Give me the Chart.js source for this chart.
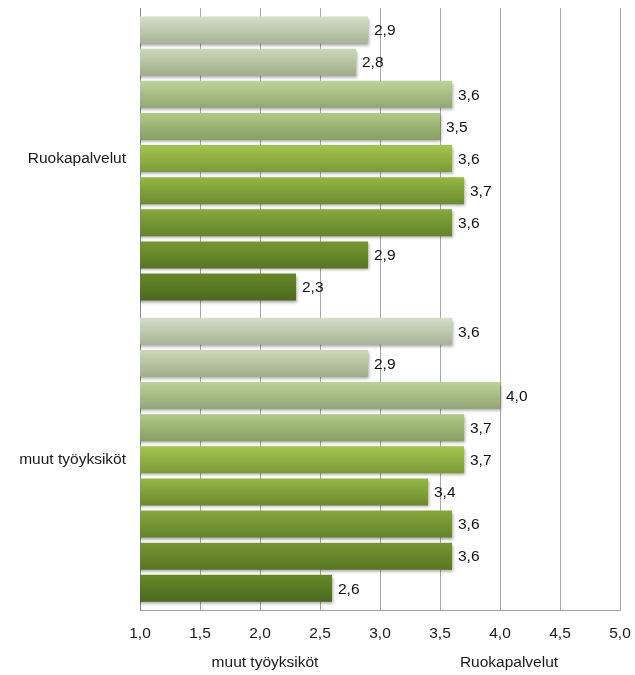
<!DOCTYPE html>
<html>
<head>
<meta charset="utf-8">
<script src="https://cdn.jsdelivr.net/npm/chart.js@4"></script>
<style>
  body { margin: 0; background: #fff; }
  #wrap { position: relative; width: 635px; height: 675px; }
  #legend { position: absolute; left: 0; top: 653px; width: 635px; height: 22px;
            font: 15.5px "Liberation Sans", Arial, sans-serif; color: #1a1a1a; }
  #legend span { position: absolute; transform: translateX(-50%); white-space: nowrap; }
</style>
</head>
<body>
<div id="wrap">
  <canvas id="chart" width="635" height="675"></canvas>
  <div id="legend"></div>
</div>
<script>
// categories on the y axis, top to bottom
var categories = ['Ruokapalvelut', 'muut työyksiköt'];
// nine answers per category, top bar first
var ruokapalvelut = [2.9, 2.8, 3.6, 3.5, 3.6, 3.7, 3.6, 2.9, 2.3];
var muutTyoyksikot = [3.6, 2.9, 4.0, 3.7, 3.7, 3.4, 3.6, 3.6, 2.6];
var xTicks = [1.0, 1.5, 2.0, 2.5, 3.0, 3.5, 4.0, 4.5, 5.0];
var legendLabels = ['muut työyksiköt', 'Ruokapalvelut'];

// bar shading, light grey-green to dark green (top / bottom of each bar)
var shadeTop = ['#d5dec6', '#ccd8b7', '#bdd298', '#b0ca86', '#a3c54d', '#94b745', '#86a83c', '#779733', '#678829'];
var shadeBottom = ['#a8b496', '#a1ae8b', '#93a676', '#879f63', '#7d9a39', '#6d8a2f', '#64822a', '#587622', '#4b681d'];

var FONT = '"Liberation Sans", Arial, sans-serif';
var FSIZE = 15.5;

function comma(v) {
    return Number(v).toFixed(1).replace('.', ',');
}

var datasets = shadeTop.map(function (c, i) {
    return {
        label: 'Sarja ' + (i + 1),
        data: [ruokapalvelut[i], muutTyoyksikot[i]],
        // scriptable so every bar gets its own options object
        backgroundColor: function () { return c; },
        borderWidth: 0,
        categoryPercentage: 0.96,
        barPercentage: 0.84
    };
});

// vertical gradient + soft drop shadow on every bar
var barShade = {
    id: 'barShade',
    beforeDatasetDraw: function (chart, args) {
        var ctx = chart.ctx, i = args.index;
        args.meta.data.forEach(function (el) {
            var h = el.height;
            var g = ctx.createLinearGradient(0, el.y - h / 2, 0, el.y + h / 2);
            g.addColorStop(0, shadeTop[i]);
            g.addColorStop(1, shadeBottom[i]);
            el.options.backgroundColor = g;
        });
        ctx.save();
        ctx.shadowColor = 'rgba(0,0,0,0.35)';
        ctx.shadowBlur = 3;
        ctx.shadowOffsetX = 1;
        ctx.shadowOffsetY = 2;
    },
    afterDatasetDraw: function (chart) {
        chart.ctx.restore();
    }
};

// value labels after the bar ends
var valueLabels = {
    id: 'valueLabels',
    afterDatasetsDraw: function (chart) {
        var ctx = chart.ctx;
        ctx.save();
        ctx.font = FSIZE + 'px ' + FONT;
        ctx.fillStyle = '#111';
        ctx.textBaseline = 'middle';
        ctx.textAlign = 'left';
        chart.data.datasets.forEach(function (ds, i) {
            chart.getDatasetMeta(i).data.forEach(function (el, j) {
                ctx.fillText(comma(ds.data[j]), el.x + 6, el.y + 1);
            });
        });
        ctx.restore();
    }
};

new Chart(document.getElementById('chart'), {
    type: 'bar',
    data: { labels: categories, datasets: datasets },
    options: {
        indexAxis: 'y',
        responsive: false,
        animation: false,
        layout: { padding: { top: 8, right: 15, bottom: 18, left: 0 } },
        plugins: {
            legend: { display: false },
            tooltip: { enabled: false }
        },
        scales: {
            x: {
                min: 1,
                max: 5,
                afterBuildTicks: function (axis) {
                    axis.ticks = xTicks.map(function (v) { return { value: v }; });
                },
                afterFit: function (axis) {
                    axis.paddingLeft = 0;
                    axis.paddingRight = 0;
                },
                grid: { color: '#a8a8a8', drawTicks: false },
                border: { color: '#a0a0a0' },
                ticks: {
                    padding: 14,
                    color: '#1a1a1a',
                    font: { family: FONT, size: FSIZE },
                    callback: function (v) { return comma(v); }
                }
            },
            y: {
                afterFit: function (axis) {
                    axis.width = 140;
                    axis.paddingTop = 0;
                    axis.paddingBottom = 0;
                },
                grid: { display: false },
                border: { color: '#8c8c8c' },
                ticks: {
                    padding: 6,
                    color: '#1a1a1a',
                    font: { family: FONT, size: FSIZE }
                }
            }
        }
    },
    plugins: [barShade, valueLabels]
});

// legend text under the axis
var legend = document.getElementById('legend');
[265, 509].forEach(function (x, i) {
    var s = document.createElement('span');
    s.textContent = legendLabels[i];
    s.style.left = x + 'px';
    legend.appendChild(s);
});
</script>
</body>
</html>
